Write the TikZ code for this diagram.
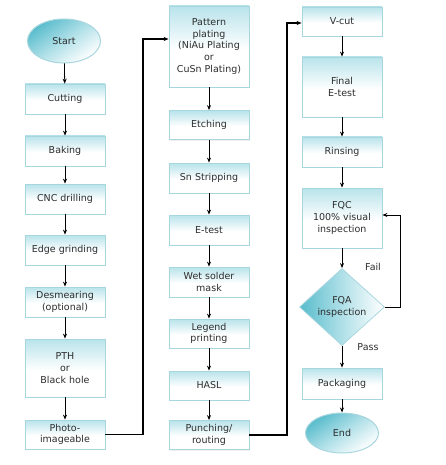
\documentclass[tikz,border=0pt]{standalone}
\usepackage{fontspec}
\newfontfamily\boxfont{DejaVu Sans}
\usetikzlibrary{arrows.meta,shapes.geometric,shadows}
\definecolor{tealtop}{RGB}{88,188,204}
\definecolor{tealmid}{RGB}{176,224,232}
\definecolor{boxline}{RGB}{168,214,222}
\definecolor{txt}{RGB}{45,45,45}
\pgfdeclareverticalshading{boxshade}{100bp}{color(0bp)=(white); color(48bp)=(white); color(78bp)=(tealmid); color(100bp)=(tealtop)}
\tikzset{
  box/.style={rectangle, draw=boxline, line width=0.8pt, shading=boxshade,
    minimum width=80pt, align=center, text=txt, inner sep=1pt,
    font=\boxfont\fontsize{9.5}{11.7}\selectfont,
    drop shadow={opacity=0.12, shadow xshift=1pt, shadow yshift=-1.2pt}},
  term/.style={ellipse, draw=boxline, line width=1pt, minimum width=73pt,
    text=txt, font=\boxfont\fontsize{9.5}{11.7}\selectfont, inner sep=0pt,
    top color=tealtop, bottom color=white, middle color=tealmid, shading angle=35},
  dec/.style={diamond, draw=boxline, line width=0.8pt, minimum width=85pt, minimum height=77pt,
    aspect=1.1, inner sep=0pt, align=center, text=txt,
    font=\boxfont\fontsize{9.5}{11.7}\selectfont,
    left color=tealtop, right color=white, middle color=tealmid},
  arr/.style={-{Stealth[length=5pt,width=4pt]}, line width=0.8pt, black},
  longarr/.style={-{Stealth[length=5pt,width=4pt]}, line width=1.3pt, black},
  lab/.style={text=txt, font=\boxfont\fontsize{9.5}{11.7}\selectfont}
}
\begin{document}
\begin{tikzpicture}[x=1pt,y=-1pt]
\useasboundingbox (0,0) rectangle (445,465);
% column 1
\node[term, minimum height=44pt] (start) at (64,41) {Start};
\node[box, minimum height=30pt] (cut) at (65,99) {Cutting};
\node[box, minimum height=30pt] (bake) at (65,151) {Baking};
\node[box, minimum height=30pt] (cnc) at (65,199) {CNC drilling};
\node[box, minimum height=30pt] (edge) at (65,250) {Edge grinding};
\node[box, minimum height=30pt] (desm) at (65,302) {Desmearing\\(optional)};
\node[box, minimum height=58pt] (pth) at (65,368) {PTH\\or\\Black hole};
\node[box, minimum height=29pt] (photo) at (65,434.5) {Photo-\\imageable};
% column 2
\node[box, minimum height=81pt] (pat) at (209,46.5) {Pattern\\plating\\(NiAu Plating\\or\\CuSn Plating)};
\node[box, minimum height=29pt] (etch) at (209,125) {Etching};
\node[box, minimum height=30pt] (sn) at (209,178) {Sn Stripping};
\node[box, minimum height=30pt] (et) at (209,230) {E-test};
\node[box, minimum height=30pt] (wet) at (209,282) {Wet solder\\mask};
\node[box, minimum height=29pt] (leg) at (209,333.5) {Legend\\printing};
\node[box, minimum height=29pt] (hasl) at (209,385.5) {HASL};
\node[box, minimum height=29pt] (punch) at (209,435) {Punching/\\routing};
% column 3
\node[box, minimum height=29pt] (vcut) at (342,21.5) {V-cut};
\node[box, minimum height=60pt] (fin) at (342,87) {Final\\E-test};
\node[box, minimum height=30pt] (rin) at (342,152) {Rinsing};
\node[box, minimum height=60pt] (fqc) at (342,218) {FQC\\100\% visual\\inspection};
\node[dec] (fqa) at (342,307) {FQA\\inspection};
\node[box, minimum height=31pt] (pack) at (342,383.5) {Packaging};
\node[term, minimum height=40pt] (end) at (342,433) {End};
% labels
\node[lab] (fail) at (373,267) {Fail};
\node[lab] (pass) at (368,347) {Pass};
% connectors column 1
\draw[arr] (start) -- (cut);
\draw[arr] (cut) -- (bake);
\draw[arr] (bake) -- (cnc);
\draw[arr] (cnc) -- (edge);
\draw[arr] (edge) -- (desm);
\draw[arr] (desm) -- (pth);
\draw[arr] (pth) -- (photo);
% column 2
\draw[arr] (pat) -- (etch);
\draw[arr] (etch) -- (sn);
\draw[arr] (sn) -- (et);
\draw[arr] (et) -- (wet);
\draw[arr] (wet) -- (leg);
\draw[arr] (leg) -- (hasl);
\draw[arr] (hasl) -- (punch);
% column 3
\draw[arr] (vcut) -- (fin);
\draw[arr] (fin) -- (rin);
\draw[arr] (rin) -- (fqc);
\draw[arr] (fqc) -- (fqa);
\draw[arr] (fqa) -- (pack);
\draw[arr] (pack) -- (end);
% long connectors
\coordinate (j1) at (143,39);
\draw[longarr] (photo.east) -| (j1) -- (pat.west |- j1);
\coordinate (j2) at (287,23);
\draw[longarr] (punch.east) -| (j2) -- (vcut.west |- j2);
\coordinate (j3) at (400,215);
\draw[arr] (fqa.east) -| (j3) -- (fqc.east |- j3);
\end{tikzpicture}
\end{document}
